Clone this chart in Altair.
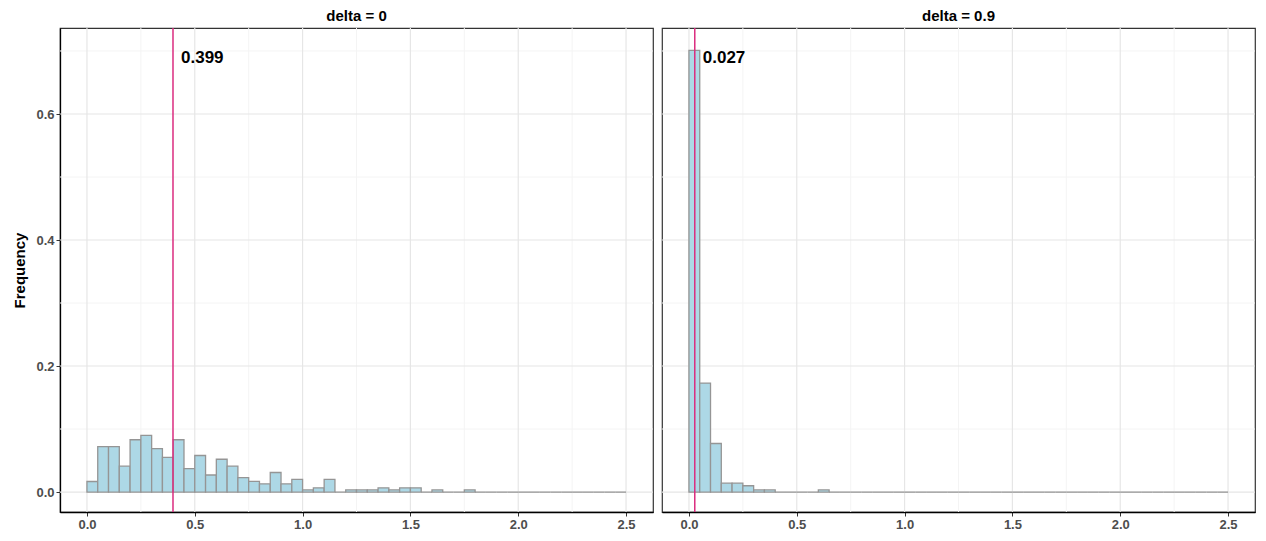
import altair as alt
import pandas as pd

# Histogram bin edges (width 0.05, from 0 to 2.5)
bin_starts = [0.00, 0.05, 0.10, 0.15, 0.20, 0.25, 0.30, 0.35, 0.40, 0.45,
              0.50, 0.55, 0.60, 0.65, 0.70, 0.75, 0.80, 0.85, 0.90, 0.95,
              1.00, 1.05, 1.10, 1.15, 1.20, 1.25, 1.30, 1.35, 1.40, 1.45,
              1.50, 1.55, 1.60, 1.65, 1.70, 1.75, 1.80, 1.85, 1.90, 1.95,
              2.00, 2.05, 2.10, 2.15, 2.20, 2.25, 2.30, 2.35, 2.40, 2.45]
bin_ends = [0.05, 0.10, 0.15, 0.20, 0.25, 0.30, 0.35, 0.40, 0.45, 0.50,
            0.55, 0.60, 0.65, 0.70, 0.75, 0.80, 0.85, 0.90, 0.95, 1.00,
            1.05, 1.10, 1.15, 1.20, 1.25, 1.30, 1.35, 1.40, 1.45, 1.50,
            1.55, 1.60, 1.65, 1.70, 1.75, 1.80, 1.85, 1.90, 1.95, 2.00,
            2.05, 2.10, 2.15, 2.20, 2.25, 2.30, 2.35, 2.40, 2.45, 2.50]

# Frequencies, delta = 0
freq_delta0 = [0.0167, 0.072, 0.072, 0.041, 0.083, 0.090, 0.069, 0.055, 0.083, 0.037,
               0.058, 0.027, 0.052, 0.041, 0.023, 0.017, 0.013, 0.031, 0.013, 0.020,
               0.0033, 0.0067, 0.020, 0.0, 0.0033, 0.0033, 0.0033, 0.0067, 0.0033, 0.0067,
               0.0067, 0.0, 0.0033, 0.0, 0.0, 0.0033, 0.0, 0.0, 0.0, 0.0,
               0.0, 0.0, 0.0, 0.0, 0.0, 0.0, 0.0, 0.0, 0.0, 0.0]
# Frequencies, delta = 0.9
freq_delta09 = [0.701, 0.173, 0.077, 0.014, 0.014, 0.010, 0.0033, 0.0033, 0.0, 0.0,
                0.0, 0.0, 0.0033, 0.0, 0.0, 0.0, 0.0, 0.0, 0.0, 0.0,
                0.0, 0.0, 0.0, 0.0, 0.0, 0.0, 0.0, 0.0, 0.0, 0.0,
                0.0, 0.0, 0.0, 0.0, 0.0, 0.0, 0.0, 0.0, 0.0, 0.0,
                0.0, 0.0, 0.0, 0.0, 0.0, 0.0, 0.0, 0.0, 0.0, 0.0]

panel_titles = ["delta = 0", "delta = 0.9"]
means = [0.399, 0.027]
mean_labels = ["0.399", "0.027"]

x_ticks = [0.0, 0.5, 1.0, 1.5, 2.0, 2.5]
x_minor = [0.25, 0.75, 1.25, 1.75, 2.25]
y_ticks = [0.0, 0.2, 0.4, 0.6]
y_minor = [0.1, 0.3, 0.5, 0.7]

FONT = "Liberation Sans"
xscale = alt.Scale(domain=[-0.125, 2.625], nice=False, zero=False)
yscale = alt.Scale(domain=[-0.0317, 0.7365], nice=False, zero=False)


def panel(freqs, mean, label, title, show_y):
    df = pd.DataFrame({"start": bin_starts, "end": bin_ends, "freq": freqs, "zero": 0.0})
    if show_y:
        yaxis = alt.Axis(values=y_ticks, format=".1f", title="Frequency", grid=False,
                         domain=True, ticks=True, minExtent=0)
    else:
        yaxis = None
    xaxis = alt.Axis(values=x_ticks, format=".1f", title=None, grid=False)

    minor_x = alt.Chart(pd.DataFrame({"v": x_minor})).mark_rule(
        color="#F4F4F4", strokeWidth=1
    ).encode(x=alt.X("v:Q", scale=xscale, axis=xaxis))
    minor_y = alt.Chart(pd.DataFrame({"v": y_minor})).mark_rule(
        color="#F4F4F4", strokeWidth=1
    ).encode(y=alt.Y("v:Q", scale=yscale, axis=yaxis))
    major_x = alt.Chart(pd.DataFrame({"v": x_ticks})).mark_rule(
        color="#E6E6E6", strokeWidth=1.2
    ).encode(x=alt.X("v:Q", scale=xscale, axis=xaxis))
    major_y = alt.Chart(pd.DataFrame({"v": y_ticks})).mark_rule(
        color="#E6E6E6", strokeWidth=1.2
    ).encode(y=alt.Y("v:Q", scale=yscale, axis=yaxis))

    bars = alt.Chart(df).mark_rect(
        fill="#ADD8E6", stroke="#959595", strokeWidth=1.3
    ).encode(
        x=alt.X("start:Q", scale=xscale, axis=xaxis),
        x2="end:Q",
        y=alt.Y("freq:Q", scale=yscale, axis=yaxis),
        y2="zero:Q",
    )
    mdf = pd.DataFrame({"m": [mean], "label": [label]})
    rule = alt.Chart(mdf).mark_rule(color="#DB2C7F", strokeWidth=1.5).encode(
        x=alt.X("m:Q", scale=xscale)
    )
    text = alt.Chart(mdf).mark_text(
        align="left", baseline="middle", dx=8, fontSize=17, fontWeight="bold",
        font=FONT, color="black"
    ).encode(x=alt.X("m:Q", scale=xscale), y=alt.value(30), text="label:N")

    return alt.layer(minor_x, minor_y, major_x, major_y, bars, rule, text).properties(
        width=593, height=484,
        title=alt.TitleParams(title, fontSize=15, fontWeight="bold", font=FONT,
                              color="black", anchor="middle", offset=3),
    )


left = panel(freq_delta0, means[0], mean_labels[0], panel_titles[0], True)
right = panel(freq_delta09, means[1], mean_labels[1], panel_titles[1], False)

chart = alt.hconcat(left, right, spacing=5).properties(
    padding={"left": 4, "top": 0, "right": 0, "bottom": 0}
).configure_view(
    stroke="#333333", strokeWidth=1.2
).configure_axis(
    domainColor="black", domainWidth=1.3,
    tickColor="#333333", tickSize=4, tickWidth=1,
    labelFont=FONT, labelFontSize=13, labelFontWeight="bold", labelColor="#4D4D4D",
    labelPadding=2,
    titleFont=FONT, titleFontSize=15, titleFontWeight="bold", titleColor="black",
    titlePadding=8,
)

chart.save("out.html", embed_options={"renderer": "svg", "actions": False})
